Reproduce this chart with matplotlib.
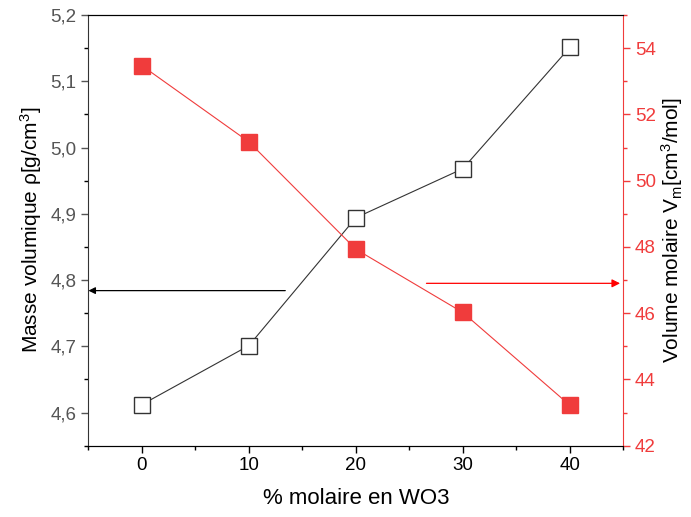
import matplotlib.pyplot as plt
from matplotlib.ticker import MultipleLocator, FuncFormatter

plt.rcParams['font.family'] = ['Liberation Sans', 'DejaVu Sans']

x = [0, 10, 20, 30, 40]
densite = [4.612, 4.701, 4.894, 4.968, 5.151]
volume = [53.47, 51.17, 47.93, 46.02, 43.22]

red = '#f03c3c'
grey = '#555555'

fig, ax = plt.subplots(figsize=(6.91, 5.17), dpi=100)
fig.subplots_adjust(left=0.128, right=0.902, top=0.971, bottom=0.138)
ax2 = ax.twinx()

ax.plot(x, densite, color='#333333', lw=0.8, marker='s', ms=11,
        mfc='white', mec='#333333', mew=1.0, zorder=3)
ax2.plot(x, volume, color=red, lw=0.8, marker='s', ms=11,
         mfc=red, mec=red, zorder=3)

ax.set_xlim(-5, 45)
ax.set_ylim(4.55, 5.2)
ax2.set_ylim(42, 55)

ax.xaxis.set_major_locator(MultipleLocator(10))
ax.xaxis.set_minor_locator(MultipleLocator(5))
ax.yaxis.set_major_locator(MultipleLocator(0.1))
ax.yaxis.set_minor_locator(MultipleLocator(0.05))
ax2.yaxis.set_major_locator(MultipleLocator(2))
ax2.yaxis.set_minor_locator(MultipleLocator(1))
ax.yaxis.set_major_formatter(FuncFormatter(lambda v, p: f'{v:.1f}'.replace('.', ',')))

ax.tick_params(axis='both', which='both', direction='out', labelsize=13.5, width=1)
ax.tick_params(which='major', length=5)
ax.tick_params(which='minor', length=3)
ax.tick_params(axis='y', colors=grey)
ax.tick_params(axis='x', colors='black')
ax.tick_params(top=False, right=False)

ax2.tick_params(axis='y', which='both', direction='out', colors=red, labelsize=13.5, width=1)
ax2.tick_params(which='major', length=5)
ax2.tick_params(which='minor', length=3)

for s in ['left', 'bottom']:
    ax.spines[s].set_color('#333333')
ax2.spines['right'].set_color(red)
ax2.spines['left'].set_visible(False)
ax.spines['right'].set_visible(False)

ax.set_xlabel('% molaire en WO3', fontsize=16, labelpad=10)
ax.set_ylabel(r'Masse volumique $\mathregular{\rho [g/cm^3]}$', fontsize=15, labelpad=5)
ax2.set_ylabel(r'Volume molaire $\mathregular{V_m [cm^3/mol]}$', fontsize=15, labelpad=2)

# arrows pointing to each axis
ax.annotate('', xy=(-5, 4.784), xytext=(13.4, 4.784), xycoords='data',
            arrowprops=dict(arrowstyle='-|>', color='black', lw=0.9, mutation_scale=10,
                            shrinkA=0, shrinkB=0), annotation_clip=False)
ax2.annotate('', xy=(44.7, 46.9), xytext=(26.6, 46.9), xycoords='data',
             arrowprops=dict(arrowstyle='-|>', color='red', lw=0.9, mutation_scale=12,
                             shrinkA=0, shrinkB=0), annotation_clip=False)

fig.savefig('out.png', dpi=100)
